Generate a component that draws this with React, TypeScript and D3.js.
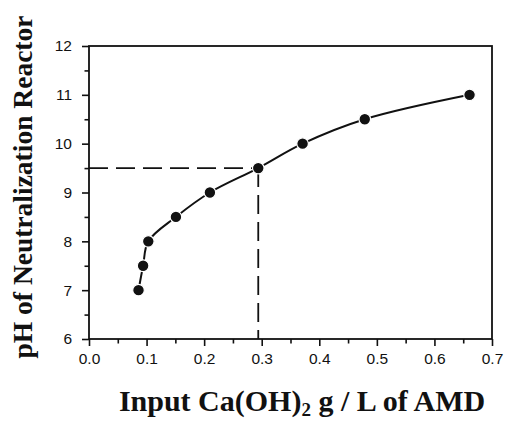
import React, { useRef, useEffect } from 'react'
import * as d3 from 'd3'

// data
const doseGL = [0.086, 0.094, 0.103, 0.151, 0.21, 0.294, 0.371, 0.479, 0.661]
const phValues = [7.0, 7.5, 8.0, 8.5, 9.0, 9.5, 10.0, 10.5, 11.0]
const xTicks = [0, 0.1, 0.2, 0.3, 0.4, 0.5, 0.6, 0.7]
const xMinor = [0.05, 0.15, 0.25, 0.35, 0.45, 0.55, 0.65]
const yTicks = [6, 7, 8, 9, 10, 11, 12]
const yMinor = [6.5, 7.5, 8.5, 9.5, 10.5, 11.5]
const targetPH = 9.5
const targetDose = 0.294

const W = 507
const H = 422
const m = { left: 89, right: 15, top: 46, bottom: 83 }

const styleAxis = (g: any) => {
  g.selectAll('.domain').remove()
  g.selectAll('line').attr('stroke', '#111').attr('stroke-width', 1.6)
  g.selectAll('text')
    .attr('font-family', '"Liberation Sans", Arial, sans-serif')
    .attr('font-size', 15.5)
    .attr('fill', '#111')
}

export default function App() {
  const xAxisRef = useRef<SVGGElement>(null)
  const xMinorRef = useRef<SVGGElement>(null)
  const yAxisRef = useRef<SVGGElement>(null)
  const yMinorRef = useRef<SVGGElement>(null)

  const x = d3.scaleLinear().domain([0, 0.7]).range([m.left, W - m.right])
  const y = d3.scaleLinear().domain([6, 12]).range([H - m.bottom, m.top])

  useEffect(() => {
    d3.select(xAxisRef.current)
      .call(
        d3.axisBottom(x).tickValues(xTicks).tickFormat(d3.format('.1f')).tickSize(7).tickSizeOuter(0).tickPadding(7) as any
      )
      .call(styleAxis)
    d3.select(xMinorRef.current)
      .call(d3.axisBottom(x).tickValues(xMinor).tickFormat(() => '').tickSize(4.5).tickSizeOuter(0) as any)
      .call(styleAxis)
    d3.select(yAxisRef.current)
      .call(
        d3.axisLeft(y).tickValues(yTicks).tickFormat(d3.format('d')).tickSize(7).tickSizeOuter(0).tickPadding(10) as any
      )
      .call(styleAxis)
    d3.select(yMinorRef.current)
      .call(d3.axisLeft(y).tickValues(yMinor).tickFormat(() => '').tickSize(4.5).tickSizeOuter(0) as any)
      .call(styleAxis)
  }, [])

  const pts = doseGL.map((d, i) => [d, phValues[i]] as [number, number])
  const line = d3
    .line<[number, number]>()
    .x((d) => x(d[0]))
    .y((d) => y(d[1]))
    .curve(d3.curveCatmullRom.alpha(0.5))

  return (
    <div style={{ position: 'absolute', left: 0, top: 0 }}>
      <svg width={W} height={H} style={{ display: 'block', background: '#fff' }}>
        {/* dashed guides */}
        <line
          x1={x(0)}
          x2={x(targetDose)}
          y1={y(targetPH)}
          y2={y(targetPH)}
          stroke="#111"
          strokeWidth={1.8}
          strokeDasharray="19 8"
        />
        <line
          x1={x(targetDose)}
          x2={x(targetDose)}
          y1={y(targetPH)}
          y2={y(6)}
          stroke="#111"
          strokeWidth={1.8}
          strokeDasharray="19 8"
        />
        <path d={line(pts) || ''} fill="none" stroke="#111" strokeWidth={2} />
        {pts.map((p, i) => (
          <circle key={i} cx={x(p[0])} cy={y(p[1])} r={5.8} fill="#111" stroke="#fff" strokeWidth={1.2} />
        ))}
        <rect
          x={x(0)}
          y={y(12)}
          width={x(0.7) - x(0)}
          height={y(6) - y(12)}
          fill="none"
          stroke="#111"
          strokeWidth={1.8}
        />
        <g ref={xAxisRef} transform={`translate(0,${y(6)})`} />
        <g ref={xMinorRef} transform={`translate(0,${y(6)})`} />
        <g ref={yAxisRef} transform={`translate(${x(0)},0)`} />
        <g ref={yMinorRef} transform={`translate(${x(0)},0)`} />
        <text
          x={302}
          y={411}
          textAnchor="middle"
          fontFamily='"Liberation Serif", "Times New Roman", serif'
          fontWeight="bold"
          fontSize={30}
          fill="#111"
        >
          Input Ca(OH)
          <tspan fontSize={19} dy={5}>2</tspan>
          <tspan dy={-5}> g / L of AMD</tspan>
        </text>
        <text
          transform={`translate(32,187) rotate(-90)`}
          textAnchor="middle"
          fontFamily='"Liberation Serif", "Times New Roman", serif'
          fontWeight="bold"
          fontSize={27.5}
          fill="#111"
        >
          pH of Neutralization Reactor
        </text>
      </svg>
    </div>
  )
}
